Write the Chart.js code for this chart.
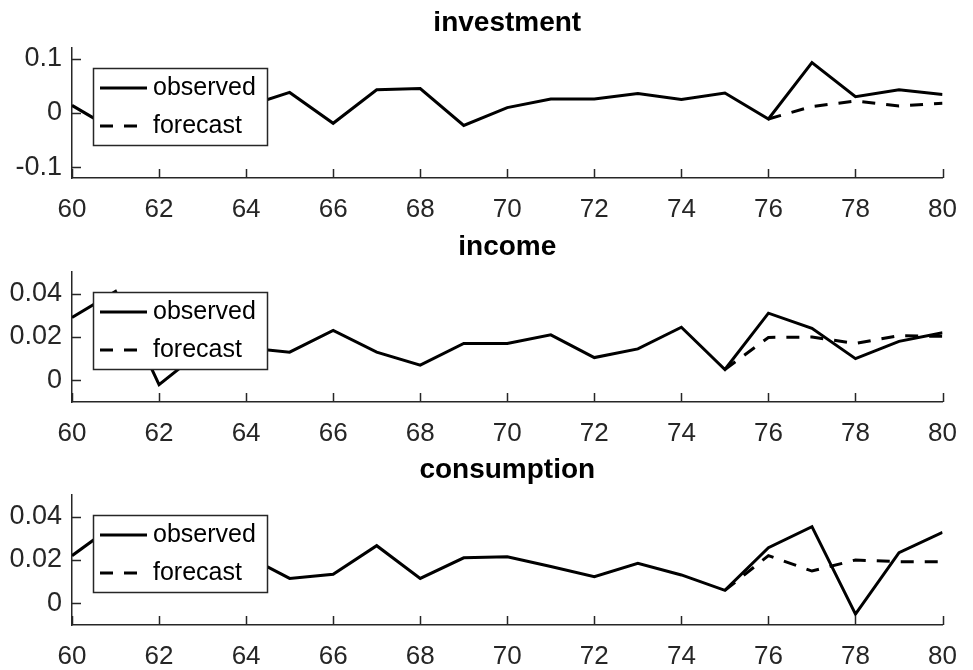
<!DOCTYPE html>
<html>
<head>
<meta charset="utf-8">
<script src="https://cdn.jsdelivr.net/npm/chart.js@4/dist/chart.umd.min.js"></script>
<style>
  html, body { margin: 0; padding: 0; background: #fff; }
  #wrap { position: relative; width: 973px; height: 670px; }
  canvas { position: absolute; left: 0; }
</style>
</head>
<body>
<div id="wrap">
  <canvas id="c0" width="973" height="223" style="top:0px"></canvas>
  <canvas id="c1" width="973" height="223" style="top:224px"></canvas>
  <canvas id="c2" width="973" height="223" style="top:447px"></canvas>
</div>
<script>
// years on the x axis (19xx)
const years = [60, 61, 62, 63, 64, 65, 66, 67, 68, 69, 70, 71, 72, 73, 74, 75, 76, 77, 78, 79, 80];
const xTicks = [60, 62, 64, 66, 68, 70, 72, 74, 76, 78, 80];

const investmentObserved = [0.014, -0.033, 0.02, -0.01, 0.012, 0.038, -0.019, 0.043, 0.045, -0.023, 0.010,
  0.026, 0.026, 0.036, 0.025, 0.037, -0.011, 0.093, 0.030, 0.043, 0.034];
const investmentForecast = [null, null, null, null, null, null, null, null, null, null, null,
  null, null, null, null, null, -0.011, 0.012, 0.022, 0.013, 0.018];

const incomeObserved = [0.029, 0.041, -0.002, 0.014, 0.015, 0.013, 0.023, 0.013, 0.007, 0.017, 0.017,
  0.021, 0.0105, 0.0145, 0.0245, 0.005, 0.031, 0.024, 0.010, 0.018, 0.022];
const incomeForecast = [null, null, null, null, null, null, null, null, null, null, null,
  null, null, null, null, 0.005, 0.0198, 0.020, 0.017, 0.0206, 0.0203];

const consumptionObserved = [0.022, 0.0366, 0.029, 0.025, 0.022, 0.0115, 0.0134, 0.0266, 0.0115, 0.021, 0.0215,
  0.017, 0.0123, 0.0185, 0.0131, 0.006, 0.0257, 0.0354, -0.005, 0.0234, 0.0328];
const consumptionForecast = [null, null, null, null, null, null, null, null, null, null, null,
  null, null, null, null, 0.006, 0.022, 0.0149, 0.020, 0.0192, 0.0192];

const investmentTicks = [-0.1, 0, 0.1];
const smallTicks = [0, 0.02, 0.04];

const legendLabels = ['observed', 'forecast'];

const FONT = "'Liberation Sans', Arial, Helvetica, sans-serif";
const AXIS = '#262626';
const DASH = [13, 11];
const LINE_W = 3;

// title above the axes, centred on the plot area
const titlePlugin = {
  id: 'panelTitle',
  afterDraw(chart, args, opts) {
    const { ctx, chartArea } = chart;
    ctx.save();
    ctx.font = 'bold 28px ' + FONT;
    ctx.fillStyle = '#000';
    ctx.textAlign = 'center';
    ctx.textBaseline = 'middle';
    ctx.fillText(opts.text, (chartArea.left + chartArea.right) / 2, chartArea.top - 25);
    ctx.restore();
  }
};

// matlab style inward tick marks
const tickPlugin = {
  id: 'inTicks',
  afterDraw(chart) {
    const { ctx, chartArea, scales } = chart;
    ctx.save();
    ctx.strokeStyle = AXIS;
    ctx.lineWidth = 1.5;
    ctx.beginPath();
    scales.x.ticks.forEach(t => {
      const px = Math.round(scales.x.getPixelForValue(t.value)) + 0.5;
      ctx.moveTo(px, chartArea.bottom);
      ctx.lineTo(px, chartArea.bottom - 9);
    });
    scales.y.ticks.forEach(t => {
      const py = Math.round(scales.y.getPixelForValue(t.value)) + 0.5;
      ctx.moveTo(chartArea.left, py);
      ctx.lineTo(chartArea.left + 9, py);
    });
    ctx.stroke();
    ctx.restore();
  }
};

// boxed legend in the upper left corner of the axes
const boxLegendPlugin = {
  id: 'boxLegend',
  afterDatasetsDraw(chart) {
    const { ctx, chartArea } = chart;
    const x = chartArea.left + 21;
    const y = chartArea.top + 20;
    const w = 174, h = 77;
    ctx.save();
    ctx.fillStyle = '#fff';
    ctx.fillRect(x, y, w, h);
    ctx.strokeStyle = '#262626';
    ctx.lineWidth = 1.5;
    ctx.strokeRect(x + 0.5, y + 0.5, w, h);
    chart.data.datasets.forEach((ds, i) => {
      const ly = y + 20 + i * 38;
      ctx.strokeStyle = '#000';
      ctx.lineWidth = LINE_W;
      ctx.setLineDash(ds.borderDash || []);
      ctx.beginPath();
      ctx.moveTo(x + 7, ly);
      ctx.lineTo(x + (ds.borderDash ? 44 : 54), ly);
      ctx.stroke();
      ctx.setLineDash([]);
      ctx.fillStyle = '#000';
      ctx.font = '25px ' + FONT;
      ctx.textAlign = 'left';
      ctx.textBaseline = 'middle';
      ctx.fillText(ds.label, x + 60, ly);
    });
    ctx.restore();
  }
};

const toPoints = values => years.map((yr, i) => ({ x: yr, y: values[i] }));

const makePanel = (canvasId, title, observed, forecast, yMin, yMax, yTicks) => {
  return new Chart(document.getElementById(canvasId), {
    type: 'line',
    data: {
      datasets: [
        {
          label: legendLabels[0],
          data: toPoints(observed),
          borderColor: '#000',
          borderWidth: LINE_W,
          pointRadius: 0,
          tension: 0,
          fill: false,
        },
        {
          label: legendLabels[1],
          data: toPoints(forecast),
          borderColor: '#000',
          borderWidth: LINE_W,
          borderDash: DASH,
          pointRadius: 0,
          tension: 0,
          fill: false,
          spanGaps: false,
        },
      ],
    },
    options: {
      responsive: false,
      animation: false,
      devicePixelRatio: 1,
      layout: { padding: { top: 48, right: 20, left: 0, bottom: 0 } },
      plugins: {
        legend: { display: false },
        tooltip: { enabled: false },
        panelTitle: { text: title },
      },
      scales: {
        x: {
          type: 'linear',
          min: 60,
          max: 80,
          afterBuildTicks: s => { s.ticks = xTicks.map(v => ({ value: v })); },
          afterFit: s => { s.height = 45; },
          grid: { display: false, drawTicks: false },
          border: { display: true, color: AXIS, width: 1.5 },
          ticks: {
            color: AXIS,
            font: { family: FONT, size: 26 },
            padding: 16,
            maxRotation: 0,
            autoSkip: false,
            callback: v => String(v),
          },
        },
        y: {
          type: 'linear',
          min: yMin,
          max: yMax,
          afterBuildTicks: s => { s.ticks = yTicks.map(v => ({ value: v })); },
          afterFit: s => { s.width = 72; },
          grid: { display: false, drawTicks: false },
          border: { display: true, color: AXIS, width: 1.5 },
          ticks: {
            color: AXIS,
            font: { family: FONT, size: 27 },
            padding: 10,
            autoSkip: false,
            callback: v => String(v),
          },
        },
      },
    },
    plugins: [boxLegendPlugin, tickPlugin, titlePlugin],
  });
};

makePanel('c0', 'investment', investmentObserved, investmentForecast, -0.12, 0.12, investmentTicks);
makePanel('c1', 'income', incomeObserved, incomeForecast, -0.01, 0.05, smallTicks);
makePanel('c2', 'consumption', consumptionObserved, consumptionForecast, -0.01, 0.05, smallTicks);
</script>
</body>
</html>
